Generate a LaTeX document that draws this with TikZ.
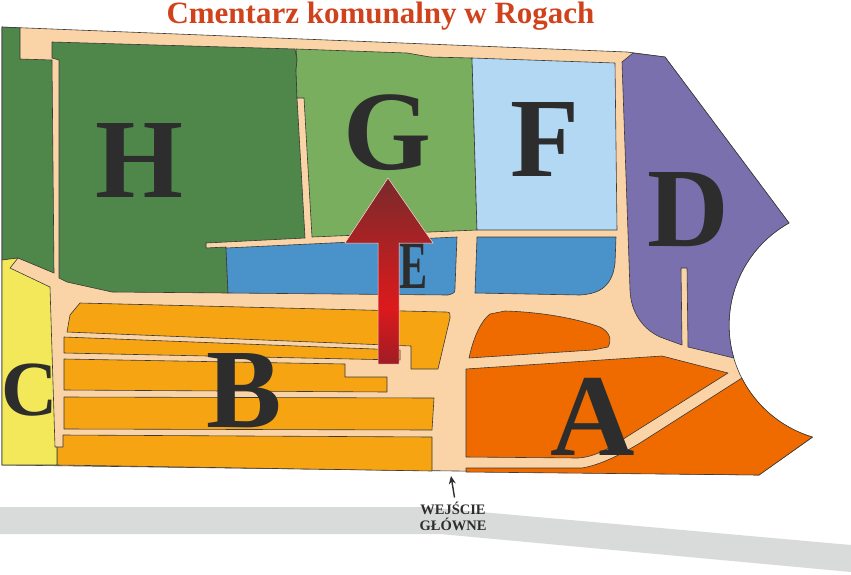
\documentclass[tikz,border=0pt]{standalone}
\usepackage{fontspec}
\setmainfont{Liberation Serif}
\usetikzlibrary{arrows.meta}
\definecolor{sciezka}{HTML}{FAD4A6}
\definecolor{kontur}{HTML}{3A3A3A}
\definecolor{ciemnozielony}{HTML}{4F874B}
\definecolor{jasnozielony}{HTML}{78AE5D}
\definecolor{jasnoniebieski}{HTML}{B3D8F3}
\definecolor{niebieski}{HTML}{4A92CA}
\definecolor{fiolet}{HTML}{7970AD}
\definecolor{pomaranczB}{HTML}{F6A412}
\definecolor{pomaranczA}{HTML}{EF6B00}
\definecolor{zolty}{HTML}{F2E85A}
\definecolor{droga}{HTML}{D9DADA}
\definecolor{litery}{HTML}{2D2D2D}
\definecolor{tytulowy}{HTML}{D0421B}
\definecolor{strzalaA}{HTML}{772A2C}
\definecolor{strzalaB}{HTML}{DC1A1C}
\definecolor{strzalaC}{HTML}{9E1C24}
\tikzset{
	kwatera/.style={draw=kontur, line width=0.6pt, line join=round},
	litera/.style={text=litery, inner sep=0pt, font=\bfseries\fontsize{113}{113}\selectfont}
}

\begin{document}
\begin{tikzpicture}[x=1pt, y=-1pt]
		%%%%% START %%%%%
		\useasboundingbox (0, 0) rectangle (851, 574);
		
		\fill[droga] (0, 507) -- (425, 507) -- (851, 545) -- (851, 572) -- (440, 534) -- (0, 534) -- cycle;
		
		\node[text=tytulowy, anchor=base, inner sep=0pt, font=\bfseries\fontsize{31}{32}\selectfont] (tytul) at (380.5, 23) {Cmentarz komunalny w Rogach};
		
		% alejki
		\draw[kwatera, fill=sciezka] (2, 27) -- (627, 52) -- (665, 57) -- (789, 223) arc[start angle=240.8, end angle=106.7, radius=117] -- (759, 475) -- (2, 465) -- cycle;
		
		% H
		\draw[kwatera, fill=ciemnozielony] (2, 27) -- (20, 28) -- (20, 59) -- (52, 60) -- (54, 273) -- (18, 258) -- (2, 260) -- cycle;
		\draw[kwatera, fill=ciemnozielony] (52, 42) -- (295, 49) -- (297, 60) -- (296, 70) -- (297, 98) -- (305, 238) -- (206, 243) -- (206, 248) -- (226, 247) -- (228, 293) -- (112, 292) -- (67, 282) -- (59, 278) -- (59, 60) -- (52, 58) -- cycle;
		
		% G, F
		\draw[kwatera, fill=jasnozielony] (296, 49) -- (407, 53) -- (430, 57) -- (472, 58) -- (477, 230) -- (312, 237) -- (304, 98) -- (297, 98) -- (296, 70) -- (297, 60) -- cycle;
		\draw[kwatera, fill=jasnoniebieski] (472, 58) -- (615, 63) -- (617, 230) -- (477, 230) -- cycle;
		
		% E
		\draw[kwatera, fill=niebieski] (226, 248) -- (457, 237) -- (455, 287) .. controls (455, 293) .. (448, 295) -- (228, 293) -- cycle;
		\draw[kwatera, fill=niebieski] (477, 237) -- (616, 237) -- (615, 263) .. controls (612, 290) and (595, 294) .. (580, 295) -- (475, 293) -- cycle;
		
		% D
		\draw[kwatera, fill=fiolet] (622, 62) -- (633, 53) -- (665, 57) -- (789, 223) arc[start angle=240.8, end angle=163.7, radius=117] -- (688, 347) -- (687, 268) -- (681, 268) -- (682, 345) -- (660, 337) .. controls (645, 330) and (631, 315) .. (630, 290) -- cycle;
		
		% A
		\draw[kwatera, fill=pomaranczA] (469, 358) .. controls (474, 335) and (482, 320) .. (490, 314) -- (505, 311) .. controls (540, 312) and (575, 318) .. (600, 327) .. controls (610, 332) and (612, 340) .. (608, 347) -- (593, 350) -- cycle;
		\draw[kwatera, fill=pomaranczA] (466, 369) -- (662, 356) -- (728, 373) -- (628, 436) .. controls (610, 448) and (595, 457) .. (578, 458) -- (466, 457) -- cycle;
		\draw[kwatera, fill=pomaranczA] (741.8, 378.1) arc[start angle=153, end angle=106.7, radius=117] -- (759, 475) -- (466, 472) -- (466, 468) -- (582, 468) .. controls (600, 465) and (620, 455) .. (640, 443) -- cycle;
		
		% B, C
		\draw[kwatera, fill=pomaranczB] (67, 332) -- (70, 315) -- (80, 303) -- (445, 312) .. controls (450, 312) .. (450, 318) -- (438, 369) -- (411, 369) -- (411, 346) -- cycle;
		\draw[kwatera, fill=pomaranczB] (64, 337) -- (400, 350) -- (400, 360) -- (64, 353) -- cycle;
		\draw[kwatera, fill=pomaranczB] (64, 359) -- (345, 364) -- (345, 377) -- (387, 377) -- (387, 392) -- (64, 390) -- cycle;
		\draw[kwatera, fill=pomaranczB] (64, 397) -- (434, 398) -- (432, 430) -- (64, 429) -- cycle;
		\draw[kwatera, fill=pomaranczB] (63, 435) -- (432, 437) -- (432, 471) -- (57, 465) -- (57, 447) -- (63, 447) -- cycle;
		\draw[kwatera, fill=zolty] (2, 260) -- (18, 258) -- (10, 268) -- (50, 287) -- (55, 447) -- (57, 447) -- (57, 465) -- (2, 465) -- cycle;
		
		% litery kwater
		\node[litera] (kwH) at (139, 160.5) {H};
		\node[litera] (kwG) at (387, 133) {G};
		\node[litera] (kwF) at (545, 139.5) {F};
		\node[litera] (kwD) at (688, 209.5) {D};
		\node[litera, xscale=0.62, font=\bfseries\fontsize{68}{68}\selectfont] (kwE) at (414, 266.5) {E};
		\node[litera] (kwB) at (244, 390.5) {B};
		\node[litera, font=\bfseries\fontsize{78}{78}\selectfont] (kwC) at (30, 390) {C};
		\node[litera, font=\bfseries\fontsize{117}{117}\selectfont] (kwA) at (593, 416.5) {A};
		
		% strzalka
		\begin{scope}
			\clip (378, 364) -- (378, 243) -- (345, 243) -- (388, 178) -- (433, 243) -- (399, 243) -- (399, 364) -- cycle;
			\shade[top color=strzalaA, bottom color=strzalaB] (340, 176) rectangle (436, 308);
			\shade[top color=strzalaB, bottom color=strzalaC] (340, 307) rectangle (436, 366);
		\end{scope}
		\draw[line width=0.5pt, color=white!85!red] (378, 364) -- (378, 243) -- (345, 243) -- (388, 178) -- (433, 243) -- (399, 243) -- (399, 364) -- cycle;
		
		% wejscie
		\coordinate (brama) at (451, 476);
		\node[text=litery, align=center, font=\bfseries\fontsize{14.5}{16}\selectfont, inner sep=1pt] (wejscie) at (453, 516) {WEJŚCIE\\GŁÓWNE};
		\draw[line width=1.4pt, color=litery, -{Stealth[length=8pt, width=7pt]}, shorten <=3pt] (wejscie.north) ++(2, 0) -- (brama);
		
		%%%%% END %%%%%
\end{tikzpicture}
\end{document}
